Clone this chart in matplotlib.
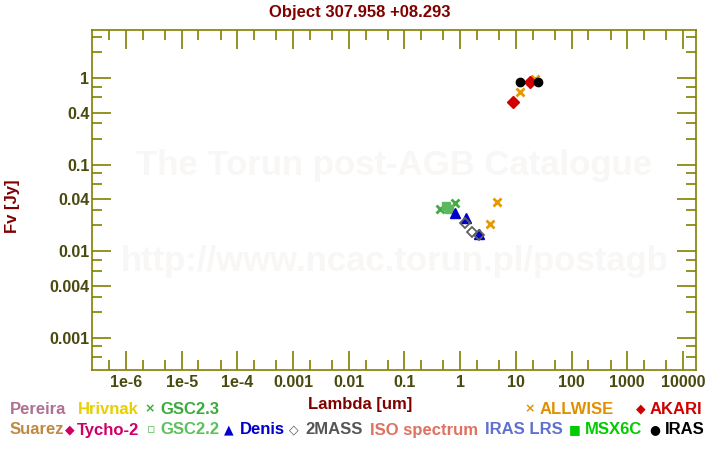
import matplotlib
matplotlib.use("Agg")
import matplotlib.pyplot as plt
from matplotlib.ticker import LogLocator, FixedLocator, NullFormatter

plt.rcParams["font.family"] = ["Liberation Sans", "DejaVu Sans"]
plt.rcParams["font.weight"] = "bold"

# photometry (wavelength in um, flux in Jy)
gsc23_x = [0.43, 0.80]
gsc23_y = [0.031, 0.036]
gsc22_x = [0.56, 0.64]
gsc22_y = [0.033, 0.031]
denis_x = [0.80, 1.25, 2.17]
denis_y = [0.028, 0.024, 0.016]
tmass_x = [1.23, 1.65, 2.17]
tmass_y = [0.021, 0.0167, 0.0155]
allwise_x = [3.4, 4.6, 12.0, 22.0]
allwise_y = [0.0207, 0.037, 0.69, 0.97]
akari_x = [9.0, 18.0]
akari_y = [0.53, 0.90]
iras_x = [12.0, 25.0]
iras_y = [0.90, 0.90]

olive = "#808000"
tickc = "#4a4a10"
darkred = "#800000"

fig = plt.figure(figsize=(7.2, 4.5), dpi=100)
ax = fig.add_axes([0.128, 0.178, 0.839, 0.755])
ax.set_xscale("log")
ax.set_yscale("log")
ax.set_xlim(2.47e-7, 1.73e4)
ax.set_ylim(4.28e-4, 3.58)

ax.text(0.5, 0.603, "The Torun post-AGB Catalogue", transform=ax.transAxes,
        ha="center", va="center", fontsize=25, color="#f9f7f5", zorder=0)
ax.text(0.5, 0.318, "http://www.ncac.torun.pl/postagb", transform=ax.transAxes,
        ha="center", va="center", fontsize=25, color="#f9f7f5", zorder=0)

ax.plot(gsc23_x, gsc23_y, "x", color="#44aa44", ms=6, mew=2, ls="none")
ax.plot(gsc22_x, gsc22_y, "s", color="#5cb85c", ms=6, ls="none")
ax.plot(denis_x, denis_y, "^", color="#0000cc", ms=6.5, ls="none")
ax.plot(tmass_x, tmass_y, "D", mfc="none", mec="#606060", ms=5, mew=1.3, ls="none")
ax.plot(allwise_x, allwise_y, "x", color="#e69a00", ms=6, mew=2, ls="none")
ax.plot(akari_x, akari_y, "D", color="#d00000", ms=6, ls="none")
ax.plot(iras_x, iras_y, "o", color="black", ms=6, ls="none")

ax.xaxis.set_minor_locator(LogLocator(base=10, subs=(2, 5), numticks=20))
ax.xaxis.set_minor_formatter(NullFormatter())
ax.set_xticks([1e-6, 1e-5, 1e-4, 1e-3, 1e-2, 0.1, 1, 10, 100, 1000, 10000])
ax.set_xticklabels(["1e-6", "1e-5", "1e-4", "0.001", "0.01", "0.1", "1", "10",
                    "100", "1000", "10000"])
yt = [0.001, 0.004, 0.01, 0.04, 0.1, 0.4, 1]
ax.set_yticks(yt)
ax.set_yticklabels(["0.001", "0.004", "0.01", "0.04", "0.1", "0.4", "1"])
ymin = []
for d in [1e-4, 1e-3, 1e-2, 1e-1, 1]:
    ymin += [2 * d, 3 * d, 6 * d, 8 * d]
ax.yaxis.set_minor_locator(FixedLocator(ymin))
ax.yaxis.set_minor_formatter(NullFormatter())

ax.tick_params(which="both", direction="in", top=True, right=True,
               color=olive, labelcolor=tickc, labelsize=11.5, width=1.2)
ax.tick_params(which="major", length=14)
ax.tick_params(axis="x", which="major", pad=4)
ax.tick_params(axis="y", which="major", pad=2)
ax.tick_params(which="minor", length=7)
for s in ax.spines.values():
    s.set_color(olive)
    s.set_linewidth(1.2)

fig.text(0.5, 1 - 12 / 450, "Object 307.958 +08.293", ha="center", va="center",
         fontsize=12, color=darkred)
fig.text(0.5, 1 - 404 / 450, "Lambda [um]", ha="center", va="center",
         fontsize=12, color=darkred)
fig.text(0.018, 1 - 206 / 450, "Fv [Jy]", ha="center", va="center", rotation=90,
         fontsize=12, color=darkred)

# legend: (symbol x, symbol, text x, label, colour, row)
r1 = 1 - 409 / 450
r2 = 1 - 430 / 450
legend = [
    (None, "", 10, "Pereira", "#b07090", r1),
    (None, "", 78, "Hrivnak", "#e8cf00", r1),
    (150, "×", 160, "GSC2.3", "#3caa3c", r1),
    (530, "×", 540, "ALLWISE", "#e09000", r1),
    (641, "◆", 650, "AKARI", "#d00000", r1),
    (None, "", 10, "Suarez", "#c08840", r2),
    (70, "◆", 77, "Tycho-2", "#cc0066", r2),
    (151, "▫", 160, "GSC2.2", "#5cc05c", r2),
    (229, "▲", 240, "Denis", "#0000cc", r2),
    (294, "◇", 305, "2MASS", "#555555", r2),
    (None, "", 370, "ISO spectrum", "#e07060", r2),
    (None, "", 485, "IRAS LRS", "#6070d0", r2),
    (575, "■", 585, "MSX6C", "#00cc00", r2),
    (655, "●", 665, "IRAS", "black", r2),
]
for sx, sym, tx, label, c, y in legend:
    if sx is not None:
        fig.text(sx / 720, y, sym, ha="center", va="center", fontsize=9,
                 color=c, family=["DejaVu Sans"])
    fig.text(tx / 720, y, label, ha="left", va="center", fontsize=12, color=c)

fig.savefig("out.png", dpi=100)
